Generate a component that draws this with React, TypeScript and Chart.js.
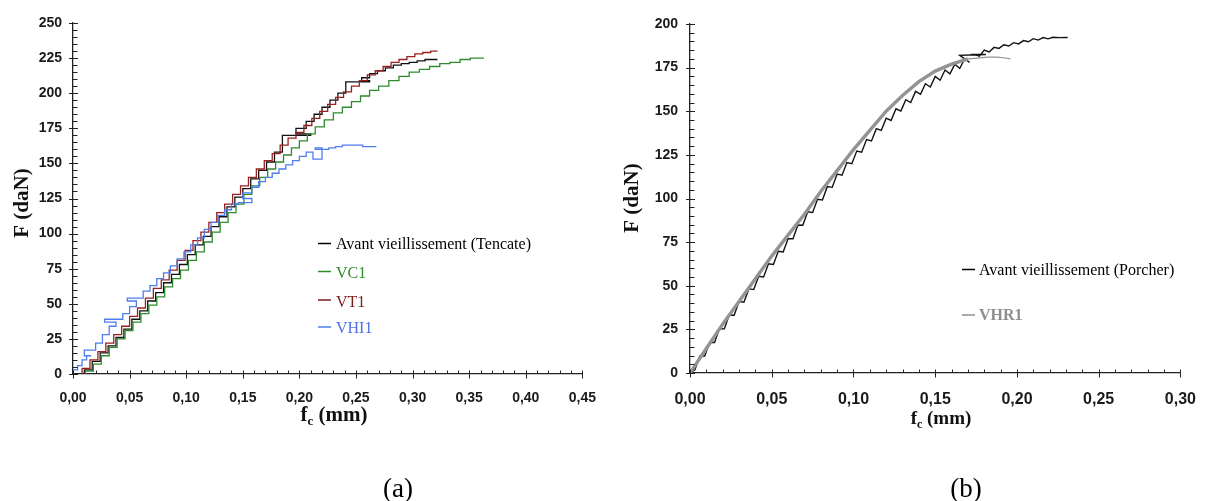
import React, { useEffect, useRef } from "react";
import { Chart, registerables } from "chart.js";
Chart.register(...registerables);

// ---------- (a) left chart data ----------
const tencateX = [0.010,0.017,0.024,0.031,0.038,0.045,0.052,0.059,0.066,0.073,0.080,0.087,0.094,0.101,0.108,0.115,0.122,0.129,0.136,0.143,0.150,0.157,0.164,0.171,0.178,0.185,0.190,0.210,0.197,0.206,0.213,0.220,0.227,0.234,0.241,0.247,0.262,0.255,0.262,0.269,0.276,0.283,0.290,0.297,0.304,0.311,0.318,0.322];
const tencateY = [0,3,9,15,20,26,32,39,45,52,58,65,71,78,85,92,98,105,112,119,126,132,139,145,151,158,170,170,171,175,180,185,190,195,200,208,208,209,211,214,216,218,220,221,222,223,224,224];

const vc1X = [0.011,0.018,0.025,0.032,0.039,0.046,0.053,0.060,0.067,0.074,0.081,0.088,0.095,0.102,0.109,0.116,0.123,0.130,0.137,0.144,0.151,0.158,0.165,0.172,0.179,0.186,0.193,0.200,0.207,0.214,0.222,0.230,0.238,0.246,0.254,0.262,0.270,0.279,0.288,0.297,0.306,0.315,0.324,0.333,0.342,0.351,0.360,0.363];
const vc1Y = [0,2,7,13,19,25,31,37,43,49,55,62,68,74,81,87,94,101,108,115,121,128,134,140,146,151,156,161,166,171,176,181,186,190,194,198,202,205,209,212,215,217,219,221,222,224,225,225];

const vt1X = [0.008,0.015,0.022,0.029,0.036,0.043,0.050,0.057,0.064,0.071,0.078,0.085,0.092,0.099,0.106,0.113,0.120,0.127,0.134,0.141,0.148,0.155,0.162,0.169,0.176,0.183,0.190,0.197,0.204,0.211,0.218,0.225,0.232,0.239,0.246,0.253,0.260,0.267,0.274,0.281,0.288,0.295,0.302,0.309,0.316,0.322];
const vt1Y = [0,4,10,16,22,28,34,41,47,54,61,67,74,81,88,95,101,108,115,121,128,134,140,146,152,157,163,168,172,177,182,187,192,197,201,205,209,213,216,219,222,224,226,228,229,230];

const vhi1X = [0.000,0.004,0.008,0.012,0.016,0.010,0.020,0.026,0.032,0.038,0.028,0.044,0.050,0.056,0.048,0.062,0.068,0.074,0.080,0.086,0.092,0.098,0.104,0.110,0.116,0.122,0.128,0.134,0.140,0.146,0.158,0.150,0.158,0.164,0.170,0.176,0.182,0.188,0.194,0.200,0.206,0.212,0.220,0.214,0.226,0.232,0.238,0.244,0.250,0.256,0.262,0.268];
const vhi1Y = [0,3,6,10,13,13,17,22,28,34,37,39,43,48,52,54,59,63,68,72,77,82,87,92,97,103,108,113,117,121,122,125,129,133,137,140,143,146,149,152,155,158,153,161,160,161,162,163,163,163,162,162];

const leftXTicks = [0, 0.05, 0.1, 0.15, 0.2, 0.25, 0.3, 0.35, 0.4, 0.45];
const leftYTicks = [0, 25, 50, 75, 100, 125, 150, 175, 200, 225, 250];
const leftLegend = ["Avant vieillissement (Tencate)", "VC1", "VT1", "VHI1"];

// ---------- (b) right chart data ----------
const porcherX = [0.000,0.003,0.006,0.009,0.012,0.015,0.018,0.021,0.024,0.027,0.030,0.033,0.036,0.039,0.042,0.045,0.048,0.051,0.054,0.057,0.060,0.063,0.066,0.069,0.072,0.075,0.078,0.081,0.084,0.087,0.090,0.093,0.096,0.099,0.102,0.105,0.108,0.111,0.114,0.117,0.120,0.123,0.126,0.129,0.132,0.135,0.138,0.141,0.144,0.147,0.150,0.153,0.156,0.159,0.162,0.165,0.168,0.171,0.165,0.181,0.174,0.177,0.180,0.183,0.186,0.189,0.192,0.195,0.198,0.201,0.204,0.207,0.210,0.213,0.216,0.219,0.222,0.226,0.231];
const porcherY = [0,1.9,9.8,9.7,17.6,17.5,25.4,25.3,33.2,33.1,41,40.6,48.2,47.8,55.4,55,62.6,62.2,69.8,69.4,77,76.9,84.8,84.7,92.4,92,99.6,99.2,106.8,106.4,114,113.3,120.6,119.9,127.2,126.5,133.8,133,140,139,146,144.7,151.4,150.1,156.6,155,161.4,159.7,165.8,163.9,170,167.8,173.6,171.4,177,174.5,180,178,182,182.5,182.5,181.5,185,184,186.6,186,188.1,187.4,189.3,188.6,190.5,189.8,191.6,190.8,192.2,191.5,192.4,192.2,192.3];

const vhr1X = [0.000,0.010,0.020,0.030,0.040,0.050,0.060,0.070,0.080,0.090,0.100,0.110,0.120,0.130,0.140,0.150,0.160,0.170];
const vhr1Y = [0,14,28,41,54,67,79,91,104,116,128,139,150,159,167,173,177,180];
const vhr1TailX = [0.170,0.176,0.182,0.188,0.193,0.196];
const vhr1TailY = [180,180.5,181,181,180.5,180];

const rightXTicks = [0, 0.05, 0.1, 0.15, 0.2, 0.25, 0.3];
const rightYTicks = [0, 25, 50, 75, 100, 125, 150, 175, 200];
const rightLegend = ["Avant vieillissement (Porcher)", "VHR1"];

const pts = (xs: number[], ys: number[]) => xs.map((x, i) => ({ x, y: ys[i] }));
const fmt = (v: number) => v.toFixed(2).replace(".", ",");

const SANS = '"Liberation Sans", Arial, sans-serif';
const SERIF = '"Liberation Serif", "Times New Roman", serif';

type Cfg = {
  xTicks: number[];
  yTicks: number[];
  yTitle: { x: number; y: number; size: number };
  xTitle: { cx: number; baseline: number; size: number };
  caption: { text: string; cx: number; baseline: number };
  legend: { x1: number; x2: number; tx: number; rows: { lineY: number; base: number; text: string; color: string; lineColor: string; bold?: boolean }[] };
};

const decorPlugin = (cfg: Cfg) => ({
  id: "decor",
  afterDraw(chart: any) {
    const ctx = chart.ctx as CanvasRenderingContext2D;
    const xs = chart.scales.x;
    const ys = chart.scales.y;
    const ax = chart.chartArea.left;
    const ay = chart.chartArea.bottom;
    ctx.save();
    ctx.strokeStyle = "#222";
    ctx.lineWidth = 1;
    const seg = (x1: number, y1: number, x2: number, y2: number) => {
      ctx.beginPath();
      ctx.moveTo(x1, y1);
      ctx.lineTo(x2, y2);
      ctx.stroke();
    };
    const yt = cfg.yTicks;
    for (let i = 0; i < yt.length; i++) {
      const p = Math.round(ys.getPixelForValue(yt[i])) + 0.5;
      seg(ax - 4, p, ax + 5, p);
      if (i < yt.length - 1) {
        for (let k = 1; k < 5; k++) {
          const q = Math.round(ys.getPixelForValue(yt[i] + ((yt[i + 1] - yt[i]) * k) / 5)) + 0.5;
          seg(ax, q, ax + 4.5, q);
        }
      }
    }
    const xt = cfg.xTicks;
    for (let i = 0; i < xt.length; i++) {
      const p = Math.round(xs.getPixelForValue(xt[i])) + 0.5;
      seg(p, ay - 3.5, p, ay + 4.5);
      if (i < xt.length - 1) {
        for (let k = 1; k < 5; k++) {
          const q = Math.round(xs.getPixelForValue(xt[i] + ((xt[i + 1] - xt[i]) * k) / 5)) + 0.5;
          seg(q, ay - 3.5, q, ay);
        }
      }
    }
    // y title
    ctx.fillStyle = "#111";
    ctx.save();
    ctx.translate(cfg.yTitle.x, cfg.yTitle.y);
    ctx.rotate(-Math.PI / 2);
    ctx.font = `bold ${cfg.yTitle.size}px ${SERIF}`;
    ctx.textAlign = "center";
    ctx.textBaseline = "middle";
    ctx.fillText("F (daN)", 0, 0);
    ctx.restore();
    // x title with subscript
    const s = cfg.xTitle.size;
    const main = `bold ${s}px ${SERIF}`;
    const sub = `bold ${Math.round(s * 0.62)}px ${SERIF}`;
    ctx.font = main;
    const wf = ctx.measureText("f").width;
    const wr = ctx.measureText(" (mm)").width;
    ctx.font = sub;
    const wc = ctx.measureText("c").width;
    let x = cfg.xTitle.cx - (wf + wc + wr) / 2;
    ctx.textAlign = "left";
    ctx.textBaseline = "alphabetic";
    ctx.font = main;
    ctx.fillText("f", x, cfg.xTitle.baseline);
    x += wf;
    ctx.font = sub;
    ctx.fillText("c", x, cfg.xTitle.baseline + s * 0.2);
    x += wc;
    ctx.font = main;
    ctx.fillText(" (mm)", x, cfg.xTitle.baseline);
    // caption
    ctx.font = `27px ${SERIF}`;
    ctx.textAlign = "center";
    ctx.fillStyle = "#000";
    ctx.fillText(cfg.caption.text, cfg.caption.cx, cfg.caption.baseline);
    // legend
    const lg = cfg.legend;
    ctx.textAlign = "left";
    for (const r of lg.rows) {
      ctx.strokeStyle = r.lineColor;
      ctx.lineWidth = 1.5;
      seg(lg.x1, r.lineY, lg.x2, r.lineY);
      ctx.fillStyle = r.color;
      ctx.font = `${r.bold ? "bold " : ""}16px ${SERIF}`;
      ctx.fillText(r.text, lg.tx, r.base);
    }
    ctx.restore();
  },
});

function makeScales(o: { xMax: number; yMax: number; xTicks: number[]; yTicks: number[]; yWidth: number; xHeight: number; xFont: number; yFont: number; xPad: number; yPad: number }) {
  return {
    x: {
      type: "linear",
      position: "bottom",
      min: 0,
      max: o.xMax,
      grid: { display: true, drawOnChartArea: false, drawTicks: false },
      border: { display: true, color: "#222", width: 1.3 },
      afterBuildTicks: (s: any) => {
        s.ticks = o.xTicks.map((v) => ({ value: v }));
      },
      afterFit: (s: any) => {
        s.height = o.xHeight;
      },
      ticks: {
        padding: o.xPad,
        color: "#1a1a1a",
        font: { family: SANS, size: o.xFont, weight: "bold" },
        maxRotation: 0,
        autoSkip: false,
        callback: (v: any) => fmt(Number(v)),
      },
    },
    y: {
      type: "linear",
      position: "left",
      min: 0,
      max: o.yMax,
      grid: { display: true, drawOnChartArea: false, drawTicks: false },
      border: { display: true, color: "#222", width: 1.3 },
      afterBuildTicks: (s: any) => {
        s.ticks = o.yTicks.map((v) => ({ value: v }));
      },
      afterFit: (s: any) => {
        s.width = o.yWidth;
      },
      ticks: {
        padding: o.yPad,
        color: "#1a1a1a",
        font: { family: SANS, size: o.yFont, weight: "bold" },
        autoSkip: false,
        callback: (v: any) => String(v),
      },
    },
  };
}

const line = (data: any[], color: string, width: number, order: number, stepped: any) => ({
  data,
  borderColor: color,
  backgroundColor: color,
  borderWidth: width,
  pointRadius: 0,
  fill: false,
  tension: 0,
  stepped,
  order,
});

export default function App() {
  const leftRef = useRef<HTMLCanvasElement>(null);
  const rightRef = useRef<HTMLCanvasElement>(null);

  useEffect(() => {
    const left = new Chart(leftRef.current as HTMLCanvasElement, {
      type: "line",
      data: {
        datasets: [
          line(pts(tencateX, tencateY), "#111111", 1.3, 3, "after"),
          line(pts(vc1X, vc1Y), "#2e8b2e", 1.3, 2, "after"),
          line(pts(vt1X, vt1Y), "#9a1f1f", 1.3, 1, "after"),
          line(pts(vhi1X, vhi1Y), "#4f7df0", 1.3, 0, "after"),
        ],
      },
      options: {
        animation: false,
        responsive: false,
        events: [],
        layout: { padding: { left: 0, right: 18, top: 23, bottom: 0 } },
        plugins: { legend: { display: false }, tooltip: { enabled: false } },
        scales: makeScales({ xMax: 0.45, yMax: 250, xTicks: leftXTicks, yTicks: leftYTicks, yWidth: 73, xHeight: 127, xFont: 14, yFont: 14, xPad: 16, yPad: 11 }) as any,
      },
      plugins: [
        decorPlugin({
          xTicks: leftXTicks,
          yTicks: leftYTicks,
          yTitle: { x: 23, y: 203, size: 21 },
          xTitle: { cx: 334, baseline: 421, size: 21 },
          caption: { text: "(a)", cx: 398, baseline: 497 },
          legend: {
            x1: 318,
            x2: 331,
            tx: 336,
            rows: [
              { lineY: 243.5, base: 249, text: leftLegend[0], color: "#000", lineColor: "#000" },
              { lineY: 271.5, base: 278, text: leftLegend[1], color: "#2e8b2e", lineColor: "#2e8b2e" },
              { lineY: 300, base: 306.5, text: leftLegend[2], color: "#7a1c1c", lineColor: "#7a1c1c" },
              { lineY: 327, base: 333, text: leftLegend[3], color: "#4f6fe8", lineColor: "#4f7df0" },
            ],
          },
        }),
      ],
    } as any);

    const right = new Chart(rightRef.current as HTMLCanvasElement, {
      type: "line",
      data: {
        datasets: [
          line(pts(porcherX, porcherY), "#111111", 1.4, 1, false),
          line(pts(vhr1X, vhr1Y), "#939393", 3.4, 0, false),
          line(pts(vhr1TailX, vhr1TailY), "#939393", 1.2, 0, false),
        ],
      },
      options: {
        animation: false,
        responsive: false,
        events: [],
        layout: { padding: { left: 0, right: 19, top: 24, bottom: 0 } },
        plugins: { legend: { display: false }, tooltip: { enabled: false } },
        scales: makeScales({ xMax: 0.3, yMax: 200, xTicks: rightXTicks, yTicks: rightYTicks, yWidth: 78, xHeight: 128, xFont: 16, yFont: 14, xPad: 17, yPad: 12 }) as any,
      },
      plugins: [
        decorPlugin({
          xTicks: rightXTicks,
          yTicks: rightYTicks,
          yTitle: { x: 21, y: 198, size: 21 },
          xTitle: { cx: 329, baseline: 424, size: 19 },
          caption: { text: "(b)", cx: 354, baseline: 497 },
          legend: {
            x1: 350,
            x2: 363,
            tx: 367,
            rows: [
              { lineY: 269.5, base: 275, text: rightLegend[0], color: "#000", lineColor: "#000" },
              { lineY: 315, base: 320, text: rightLegend[1], color: "#8e8e8e", lineColor: "#8e8e8e", bold: true },
            ],
          },
        }),
      ],
    } as any);

    return () => {
      left.destroy();
      right.destroy();
    };
  }, []);

  return (
    <div style={{ position: "absolute", left: 0, top: 0, width: 1213, height: 501, background: "#fff", overflow: "hidden" }}>
      <canvas ref={leftRef} width={612} height={501} style={{ position: "absolute", left: 0, top: 0 }} />
      <canvas ref={rightRef} width={601} height={501} style={{ position: "absolute", left: 612, top: 0 }} />
    </div>
  );
}
